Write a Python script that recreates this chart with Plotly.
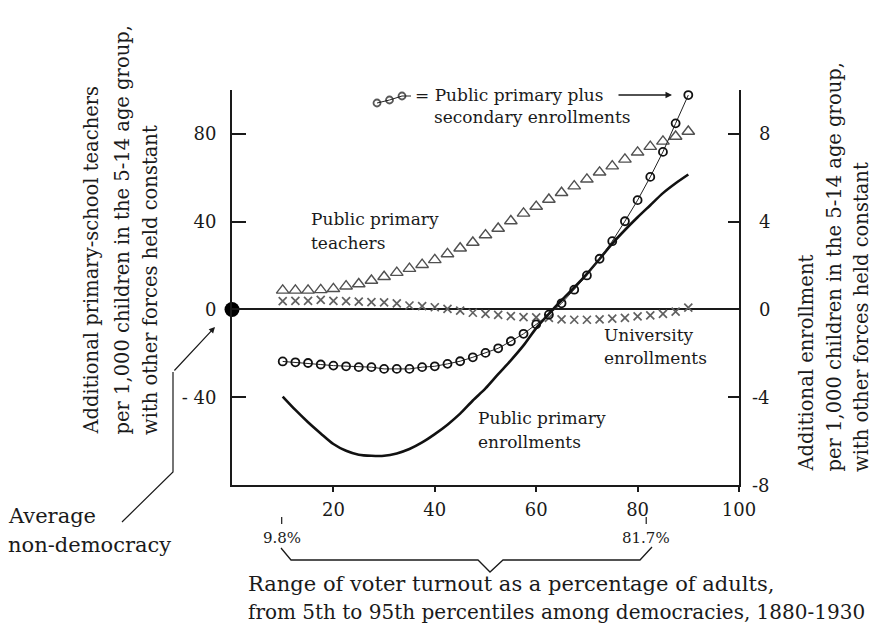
import plotly.graph_objects as go

# Voter turnout (% of adults) at which the effects are evaluated
turnout = [10, 12.5, 15, 17.5, 20, 22.5, 25, 27.5, 30, 32.5, 35, 37.5, 40, 42.5,
           45, 47.5, 50, 52.5, 55, 57.5, 60, 62.5, 65, 67.5, 70, 72.5, 75, 77.5,
           80, 82.5, 85, 87.5, 90]

# Additional primary-school teachers (left axis)
teachers = [8.7, 8.7, 8.7, 8.9, 9.4, 10.6, 11.6, 13.2, 14.9, 16.8, 18.6, 20.4,
            22.6, 25.3, 27.9, 30.5, 33.9, 36.9, 40.3, 43.8, 46.9, 50.1, 53.2,
            56.2, 59.3, 62.5, 65.3, 68.4, 71.6, 74.2, 76.6, 78.8, 81.1]

# Additional enrollments (right axis)
primary_secondary = [-2.37, -2.41, -2.44, -2.51, -2.56, -2.59, -2.63, -2.63, -2.71,
                     -2.71, -2.71, -2.63, -2.59, -2.48, -2.36, -2.18, -1.98, -1.77,
                     -1.45, -1.11, -0.68, -0.24, 0.28, 0.90, 1.55, 2.31, 3.11, 4.02,
                     4.98, 6.04, 7.18, 8.48, 9.77]
primary = [-3.97, -4.58, -5.14, -5.65, -6.13, -6.44, -6.62, -6.67, -6.67, -6.56,
           -6.36, -6.06, -5.68, -5.25, -4.75, -4.15, -3.60, -2.95, -2.32, -1.64,
           -0.85, -0.20, 0.42, 1.00, 1.62, 2.30, 3.00, 3.62, 4.20, 4.75, 5.30,
           5.75, 6.15]
university = [0.38, 0.39, 0.39, 0.44, 0.39, 0.38, 0.36, 0.33, 0.32, 0.28, 0.18,
              0.15, 0.10, 0.03, -0.05, -0.15, -0.20, -0.25, -0.30, -0.35, -0.36,
              -0.38, -0.45, -0.47, -0.47, -0.45, -0.42, -0.38, -0.32, -0.27,
              -0.20, -0.10, 0.08]

# Average non-democracy reference point
base_x = [0]
base_y = [0]

# Turnout range among democracies (5th and 95th percentiles)
range_lo, range_hi = 9.8, 81.7
range_labels = ["9.8%", "81.7%"]

x_ticks = [20, 40, 60, 80, 100]
x_ticktext = ["20", "40", "60", "80", "100"]
left_ticks = [-80, -40, 0, 40, 80, 100]
left_ticktext = ["", "- 40", "0", "40", "80", ""]
right_ticks = [-8, -4, 0, 4, 8, 10]
right_ticktext = ["-8", "-4", "0", "4", "8", ""]

FONT = "DejaVu Serif"
INK = "#1a1a1a"

# plot-area geometry in pixels
W, H = 876, 634
L, R, T, B = 232, 739, 90, 485


def px(x):
    return (x - L) / (R - L)


def py(y):
    return (B - y) / (B - T)


fig = go.Figure()

fig.add_trace(go.Scatter(
    x=turnout, y=teachers, mode="markers", yaxis="y",
    marker=dict(symbol="triangle-up-open", size=11, color="#505050",
                line=dict(width=1.4)),
    cliponaxis=False))

fig.add_trace(go.Scatter(
    x=turnout, y=university, mode="markers", yaxis="y2",
    marker=dict(symbol="x-thin-open", size=8, color="#606060",
                line=dict(width=1.7, color="#606060")),
    cliponaxis=False))

fig.add_trace(go.Scatter(
    x=turnout, y=primary, mode="lines", yaxis="y2",
    line=dict(color="#111111", width=2.6, shape="spline", smoothing=0.8)))

fig.add_trace(go.Scatter(
    x=turnout, y=primary_secondary, mode="lines+markers", yaxis="y2",
    line=dict(color="#222222", width=1),
    marker=dict(symbol="circle-open", size=8, color="#111111",
                line=dict(width=1.8)),
    cliponaxis=False))

fig.add_trace(go.Scatter(
    x=base_x, y=base_y, mode="markers", yaxis="y",
    marker=dict(symbol="circle", size=15, color="#000000"),
    cliponaxis=False))

# small sample glyph for the primary-plus-secondary series
sample = go.Scatter(
    x=[px(377), px(389.5), px(402), px(411)], y=[py(103), py(100), py(96), py(96)],
    xaxis="x2", yaxis="y3", mode="lines+markers",
    line=dict(color="#222222", width=1),
    marker=dict(symbol="circle-open", size=[7, 7, 7, 0], color="#111111",
                line=dict(width=1.8)),
    cliponaxis=False)
fig.add_trace(sample)

annotations = []


def text(x, y, s, size, xanchor="left", yanchor="middle", angle=0):
    annotations.append(dict(
        xref="paper", yref="paper", x=px(x), y=py(y), text=s, showarrow=False,
        xanchor=xanchor, yanchor=yanchor, textangle=angle,
        font=dict(family=FONT, size=size, color=INK)))


text(413, 95, "= Public primary plus", 17)
text(432, 117, "secondary enrollments", 17)
text(309, 219, "Public primary", 17)
text(309, 243, "teachers", 17)
text(602, 335, "University", 17)
text(602, 358, "enrollments", 17)
text(476, 418, "Public primary", 17)
text(476, 442, "enrollments", 17)
text(6, 516, "Average", 21)
text(6, 545, "non-democracy", 21)
text(246, 584, "Range of voter turnout as a percentage of adults,", 21)
text(246, 612, "from 5th to 95th percentiles among democracies, 1880-1930", 20)

# axis titles, rotated
left_title = ["Additional primary-school teachers",
              "per 1,000 children in the 5-14 age group,",
              "with other forces held constant"]
right_title = ["Additional enrollment",
               "per 1,000 children in the 5-14 age group,",
               "with other forces held constant"]
for xc, s in zip([91, 122, 150], left_title):
    text(xc, 437, s, 19.5, xanchor="center", yanchor="bottom", angle=-90)
for xc, s in zip([806, 834, 861], right_title):
    text(xc, 474, s, 19.5, xanchor="center", yanchor="bottom", angle=-90)

# right-axis tick labels, right-aligned
for v, s in zip(right_ticks, right_ticktext):
    if s:
        annotations.append(dict(
            xref="paper", yref="y2", x=px(772), y=v, text=s, showarrow=False,
            xanchor="right", yanchor="middle",
            font=dict(family=FONT, size=18, color=INK)))

# percentile labels under the x axis
for v, s in zip([range_lo, range_hi], range_labels):
    annotations.append(dict(
        xref="x", yref="paper", x=v, y=py(538), text=s, showarrow=False,
        xanchor="center", yanchor="middle",
        font=dict(family=FONT, size=15, color=INK)))

# arrow pointing to the end of the primary-plus-secondary series
annotations.append(dict(
    xref="x2", yref="y3", x=px(672), y=py(95), ax=px(617), ay=py(95),
    axref="x2", ayref="y3", text="", showarrow=True,
    arrowhead=2, arrowsize=1, arrowwidth=1.3, arrowcolor=INK))

# arrow from the non-democracy label to the reference point
annotations.append(dict(
    xref="paper", yref="paper", x=px(215), y=py(327), ax=173 - 215, ay=372 - 327,
    text="", showarrow=True, arrowhead=2, arrowsize=1, arrowwidth=1.2,
    arrowcolor=INK))

shapes = [
    # leader line from the label
    dict(type="path", xref="paper", yref="paper",
         path=f"M {px(122)} {py(522)} L {px(173)} {py(472)} L {px(173)} {py(372)}",
         line=dict(color=INK, width=1.2)),
    # brace spanning the turnout range
    dict(type="path", xref="paper", yref="paper",
         path=(f"M {px(281)} {py(548)} L {px(291)} {py(560)} L {px(478)} {py(560)} "
               f"L {px(490)} {py(572)} L {px(503)} {py(560)} L {px(640)} {py(560)} "
               f"L {px(652)} {py(547)}"),
         line=dict(color=INK, width=1.3)),
]
for v in [range_lo, range_hi]:
    shapes.append(dict(type="line", xref="x", yref="paper", x0=v, x1=v,
                       y0=py(517), y1=py(524), line=dict(color=INK, width=1.2)))

axis_font = dict(family=FONT, size=18, color=INK)

fig.update_layout(
    width=W, height=H,
    margin=dict(l=L, r=W - R, t=T, b=H - B),
    paper_bgcolor="white", plot_bgcolor="white",
    showlegend=False,
    xaxis=dict(range=[0, 100], tickvals=x_ticks, ticktext=x_ticktext,
               showgrid=False, zeroline=False, showline=True, linewidth=2,
               linecolor=INK, ticks="outside", ticklen=5, tickwidth=1.5,
               tickcolor=INK, tickfont=axis_font, ticklabelstandoff=2),
    yaxis=dict(range=[-80, 100], tickvals=left_ticks, ticktext=left_ticktext,
               showgrid=False, zeroline=True, zerolinewidth=2,
               zerolinecolor=INK, showline=True, linewidth=2, linecolor=INK,
               ticks="inside", ticklen=14, tickwidth=2, tickcolor=INK,
               tickfont=axis_font, ticklabelstandoff=10),
    yaxis2=dict(range=[-8, 10], overlaying="y", side="right",
                tickvals=right_ticks, showticklabels=False, showgrid=False,
                zeroline=False, showline=True, linewidth=2, linecolor=INK,
                ticks="inside", ticklen=11, tickwidth=2, tickcolor=INK),
    xaxis2=dict(range=[0, 1], overlaying="x", visible=False),
    yaxis3=dict(range=[0, 1], overlaying="y", visible=False),
    annotations=annotations,
    shapes=shapes,
)

fig.write_html("out.html")
